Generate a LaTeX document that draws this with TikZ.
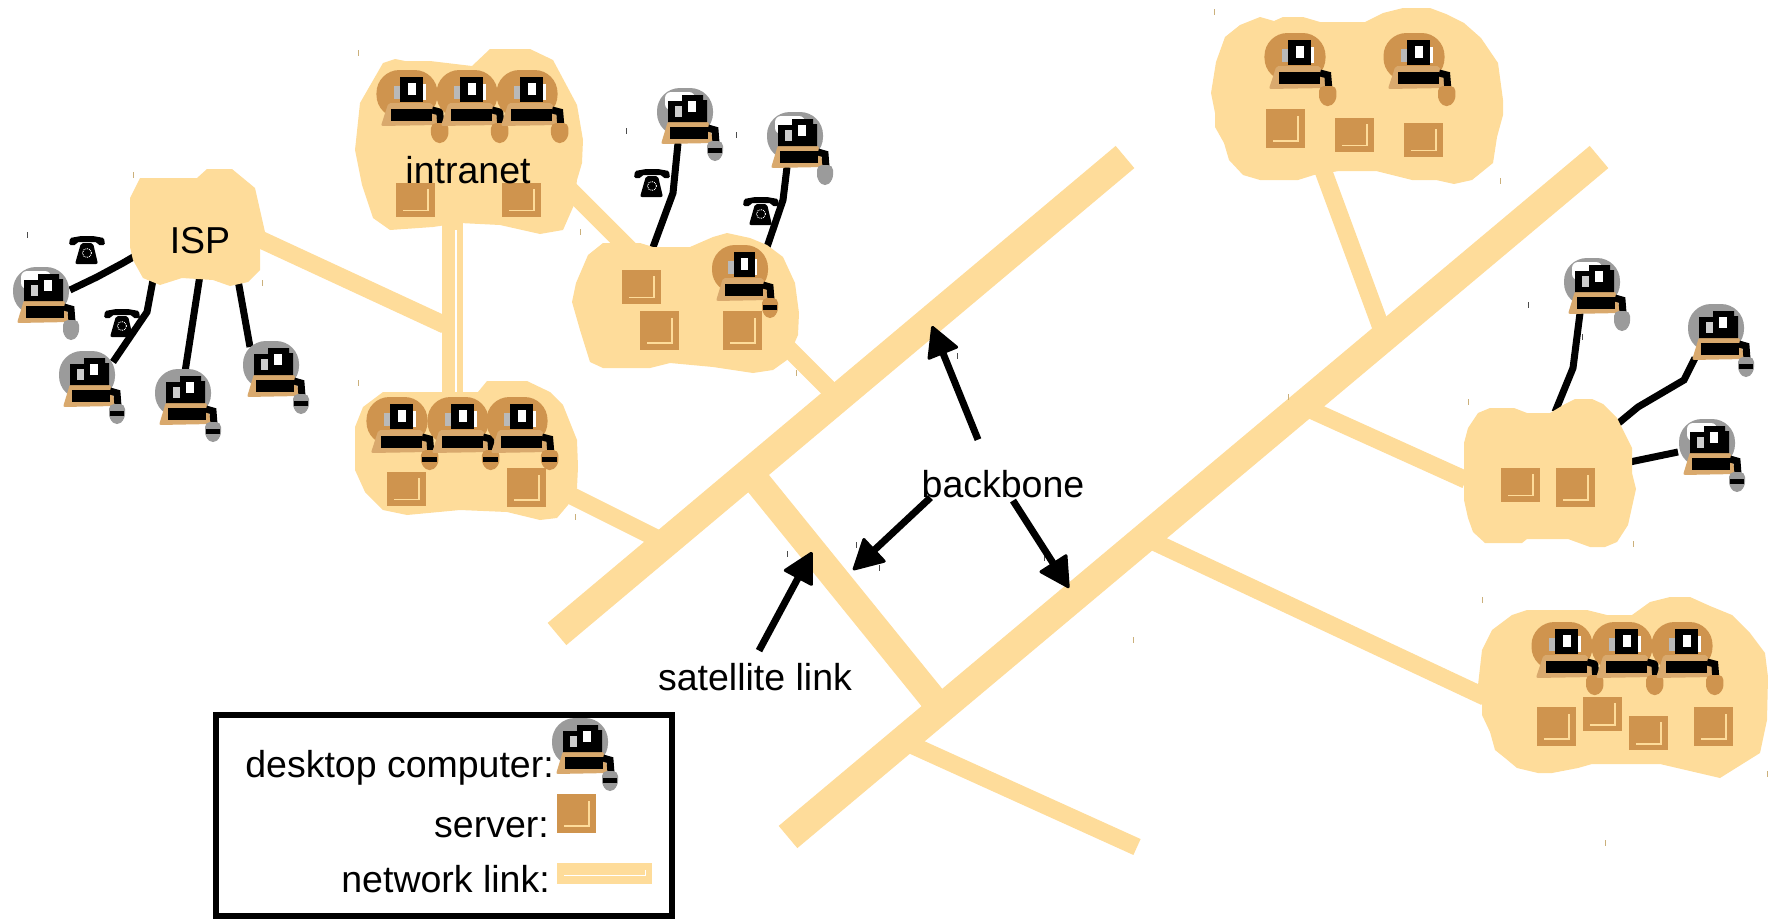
\documentclass[tikz,border=0pt]{standalone}
\usepackage{fontspec}
\setmainfont{Liberation Sans}
\usetikzlibrary{arrows.meta}
\definecolor{netcol}{HTML}{FEDC9A}
\definecolor{servercol}{HTML}{CF944E}
\definecolor{basecol}{HTML}{D9A96D}
\definecolor{haze}{HTML}{9B9B9B}
\newcommand{\deskbody}[3]{
  \fill[#1,rounded corners=23pt] (-28,0) rectangle (28,48);
  \fill[basecol,rounded corners=2pt] (-17,33) -- (23,33) -- (29,55) -- (-24,56) -- cycle;
  \fill[black] (-15,39) rectangle (23,51);
  \draw[black,line width=7pt] (23,40) -- (30,42) -- (31,55);
  \fill[#2,rounded corners=5pt] (22,53) -- (38,53) -- (38,68) -- (30,75) -- (22,68) -- cycle;
  \fill[#3] (23,60) rectangle (37,65);
}
\tikzset{
  bignet/.style={netcol,line width=29pt},
  smallnet/.style={netcol,line width=17.5pt},
  cable/.style={black,line width=7pt},
  pointer/.style={black,line width=7pt,-{Triangle[length=32pt,width=34pt,line width=3pt,round]}},
  word/.style={inner sep=0pt,anchor=base,font=\fontsize{37.5}{40}\selectfont},
  legendword/.style={word,anchor=base east},
  wide/.style={xscale=1.09},
  short/.style={yscale=0.87},
  tan tick/.style={netcol!80!black,line width=1pt},
  dark tick/.style={black!70,line width=1pt},
  pics/greydesk/.style n args={4}{code={
    \deskbody{#1}{#2}{#3}
    \fill[#4,rounded corners=6pt] (-20,4) rectangle (10,22);
    \fill[black] (-17,13) -- (-3,13) -- (-3,7) -- (18,7) -- (18,12) -- (22,12) -- (22,34) -- (-17,34) -- cycle;
    \fill[haze!50] (-10,18) rectangle (-3,29);
    \fill[white] (3,13) rectangle (11,24);
  }},
  pics/browndesk/.style n args={3}{code={
    \deskbody{#1}{#2}{#3}
    \fill[white] (14,14) rectangle (17,30);
    \fill[black] (-6,7) rectangle (15,32);
    \fill[haze!70] (-12,16) rectangle (-6,29);
    \fill[white] (1,13) rectangle (8,25);
  }},
  pics/server/.style={code={
    \fill[servercol] (0,0) rectangle (39,39);
    \draw[netcol,line width=1.3pt] (7,32) -- (32,32) -- (32,7);
  }},
  pics/phone/.style={code={
    \fill[black,rounded corners=1.5pt] (-18,-5) -- (-17,-12) -- (-6,-14) -- (6,-14) -- (17,-12) -- (18,-5) -- (11,-5) -- (10,-8) -- (-10,-8) -- (-11,-5) -- cycle;
    \fill[black,rounded corners=2pt] (-6,-7) -- (6,-7) -- (11,14) -- (-12,14) -- cycle;
    \draw[white,densely dotted,line width=0.9pt] (0,3) circle (4.5);
  }}
}
\begin{document}
\begin{tikzpicture}[x=1pt,y=-1pt]
\useasboundingbox (0,0) rectangle (1768,918);

% phones
\pic (phoneA) at (87,250) {phone};
\pic (phoneB) at (122,323) {phone};
\pic (phoneC) at (652,183) {phone};
\pic (phoneD) at (761,211) {phone};

% ends of the cables
\coordinate (pcA) at (70,290);
\coordinate (pcB) at (113,362);
\coordinate (pcC) at (185,372);
\coordinate (pcD) at (250,347);
\coordinate (pcE) at (678,143);
\coordinate (pcF) at (787,167);
\coordinate (pcG) at (1580,313);
\coordinate (pcH) at (1695,358);
\coordinate (pcI) at (1678,452);
\coordinate (ispA) at (135,256);
\coordinate (ispB) at (153,280);
\coordinate (ispC) at (200,275);
\coordinate (ispD) at (238,280);
\coordinate (midA) at (652,250);
\coordinate (midB) at (766,250);
\coordinate (rightA) at (1555,412);
\coordinate (rightB) at (1615,426);
\coordinate (rightC) at (1625,463);
\draw[cable] (pcA) -- (97,277) -- (123,263) -- (ispA);
\draw[cable] (pcB) -- (147,312) -- (ispB);
\draw[cable] (pcC) -- (ispC);
\draw[cable] (pcD) -- (ispD);
\draw[cable] (pcE) -- (673,193) -- (midA);
\draw[cable] (pcF) -- (783,200) -- (midB);
\draw[cable] (pcG) -- (1573,368) -- (rightA);
\draw[cable] (pcH) -- (1684,380) -- (1638,407) -- (rightB);
\draw[cable] (pcI) -- (rightC);

% network links
\draw[bignet] (1125,157) -- (557,634);
\draw[bignet] (1599,157) -- (788,837);
\draw[netcol,line width=27pt] (750,473) -- (938,705);
\draw[smallnet] (255,237) -- (445,325);
\draw[netcol,line width=21pt] (452.5,223) -- (452.5,393);
\draw[white,line width=1.5pt] (456,230) -- (456,393);
\draw[netcol,line width=18pt] (570,190) -- (630,250);
\draw[smallnet] (788,348) -- (835,395);
\draw[smallnet] (570,495) -- (660,540);
\draw[smallnet] (1323,170) -- (1382,330);
\draw[smallnet] (1300,405) -- (1466,480);
\draw[smallnet] (1150,540) -- (1485,697);
\draw[smallnet] (905,742) -- (1137,847);

% clouds
\fill[netcol] (130,198) -- (140,178) -- (197,178) -- (207,169) -- (232,169) -- (255,188) -- (265,232) -- (260,250) -- (260,270) -- (248,282) -- (230,286) -- (213,280) -- (182,278) -- (160,285) -- (143,278) -- (133,260) -- (130,247) -- cycle;
\fill[netcol] (360,103) -- (383,63) -- (395,59) -- (405,61) -- (430,61) -- (472,66) -- (490,49) -- (530,49) -- (553,60) -- (577,105) -- (583,140) -- (582,163) -- (577,180) -- (574,205) -- (563,230) -- (540,234) -- (500,225) -- (460,223) -- (433,227) -- (390,230) -- (373,218) -- (362,185) -- (355,150) -- cycle;
\fill[netcol] (355,427) -- (363,407) -- (383,392) -- (478,392) -- (487,381) -- (527,381) -- (550,392) -- (563,405) -- (577,440) -- (578,467) -- (577,488) -- (568,505) -- (557,518) -- (540,520) -- (507,512) -- (460,510) -- (407,515) -- (383,510) -- (365,492) -- (355,470) -- cycle;
\fill[netcol] (576,283) -- (588,255) -- (603,243) -- (640,243) -- (653,247) -- (690,247) -- (713,237) -- (727,233) -- (750,238) -- (767,245) -- (783,257) -- (795,283) -- (799,313) -- (798,335) -- (787,360) -- (773,370) -- (753,373) -- (713,367) -- (670,363) -- (650,368) -- (603,368) -- (590,362) -- (580,330) -- (572,302) -- cycle;
\fill[netcol] (1211,93) -- (1216,62) -- (1225,37) -- (1240,25) -- (1260,17) -- (1274,21) -- (1283,17) -- (1303,17) -- (1320,22) -- (1365,22) -- (1383,13) -- (1403,8) -- (1430,8) -- (1446,14) -- (1464,23) -- (1481,38) -- (1498,63) -- (1503,100) -- (1503,115) -- (1497,137) -- (1493,163) -- (1472,180) -- (1454,184) -- (1436,180) -- (1412,180) -- (1376,171) -- (1339,171) -- (1314,175) -- (1298,180) -- (1260,180) -- (1243,175) -- (1229,160) -- (1224,143) -- (1215,127) -- (1215,113) -- cycle;
\fill[netcol] (1464,443) -- (1468,428) -- (1478,413) -- (1490,408) -- (1514,408) -- (1527,413) -- (1550,413) -- (1565,404) -- (1575,399) -- (1592,399) -- (1603,404) -- (1617,418) -- (1632,448) -- (1632,473) -- (1636,489) -- (1628,525) -- (1617,542) -- (1605,547) -- (1590,547) -- (1568,539) -- (1527,539) -- (1522,543) -- (1485,543) -- (1473,532) -- (1468,518) -- (1464,500) -- cycle;
\fill[netcol] (1482,650) -- (1492,630) -- (1512,615) -- (1527,610) -- (1587,610) -- (1607,615) -- (1632,615) -- (1650,602) -- (1670,597) -- (1690,597) -- (1710,606) -- (1732,615) -- (1750,633) -- (1765,653) -- (1768,677) -- (1767,720) -- (1760,753) -- (1720,778) -- (1660,764) -- (1592,764) -- (1578,768) -- (1552,773) -- (1538,773) -- (1517,768) -- (1505,758) -- (1495,750) -- (1490,732) -- (1482,715) -- (1482,703) -- (1478,685) -- cycle;

% servers
\pic[short] (srvA) at (396,183) {server};
\pic[short] (srvB) at (502,183) {server};
\pic[short] (srvC) at (387,472) {server};
\pic (srvD) at (507,468) {server};
\pic[short] (srvE) at (622,270) {server};
\pic (srvF) at (640,311) {server};
\pic (srvG) at (723,311) {server};
\pic (srvH) at (1266,109) {server};
\pic[short] (srvI) at (1335,118) {server};
\pic[short] (srvJ) at (1404,123) {server};
\pic[short] (srvK) at (1501,468) {server};
\pic (srvL) at (1556,468) {server};
\pic (srvM) at (1537,707) {server};
\pic[short] (srvN) at (1583,697) {server};
\pic[short] (srvO) at (1629,716) {server};
\pic (srvP) at (1694,707) {server};
\pic (srvKey) at (557,794) {server};

% desktop computers
\pic (deskA) at (41,267) {greydesk={haze}{haze}{haze}{white}};
\pic (deskB) at (87,351) {greydesk={haze}{haze}{black}{haze}};
\pic (deskC) at (183,369) {greydesk={haze}{haze}{black}{haze}};
\pic (deskD) at (271,341) {greydesk={haze}{haze}{black}{haze}};
\pic (deskE) at (685,88) {greydesk={haze}{haze}{black}{white}};
\pic (deskF) at (795,112) {greydesk={haze}{haze}{haze}{white}};
\pic (deskG) at (1592,258) {greydesk={haze}{haze}{haze}{white}};
\pic (deskH) at (1716,304) {greydesk={haze}{haze}{black}{haze}};
\pic (deskI) at (1707,419) {greydesk={haze}{haze}{black}{white}};
\pic (deskKey) at (580,718) {greydesk={haze}{haze}{black}{haze}};
\pic[wide] (deskJ) at (407,70) {browndesk={servercol}{servercol}{servercol}};
\pic[wide] (deskK) at (467,70) {browndesk={servercol}{servercol}{servercol}};
\pic[wide] (deskL) at (527,70) {browndesk={servercol}{servercol}{servercol}};
\pic[wide] (deskM) at (397,397) {browndesk={servercol}{servercol}{black}};
\pic[wide] (deskN) at (458,397) {browndesk={servercol}{servercol}{black}};
\pic[wide] (deskO) at (517,397) {browndesk={servercol}{servercol}{black}};
\pic (deskP) at (740,245) {browndesk={servercol}{servercol}{black}};
\pic[wide] (deskQ) at (1295,33) {browndesk={servercol}{servercol}{servercol}};
\pic[wide] (deskR) at (1414,33) {browndesk={servercol}{servercol}{servercol}};
\pic[wide] (deskS) at (1562,622) {browndesk={servercol}{servercol}{servercol}};
\pic[wide] (deskT) at (1622,622) {browndesk={servercol}{servercol}{servercol}};
\pic[wide] (deskU) at (1682,622) {browndesk={servercol}{servercol}{servercol}};

% small marks
\draw[tan tick] (133,172) -- ++(0,6) (262,280) -- ++(0,6) (358,50) -- ++(0,6) (580,229) -- ++(0,6) (358,380) -- ++(0,6) (575,514) -- ++(0,6) (796,370) -- ++(0,6) (1214,9) -- ++(0,6) (1500,178) -- ++(0,6) (1288,394) -- ++(0,6) (1468,399) -- ++(0,6) (1633,541) -- ++(0,6) (1482,597) -- ++(0,6) (1767,771) -- ++(0,6) (1133,637) -- ++(0,6) (1605,840) -- ++(0,6);
\draw[dark tick] (27,232) -- ++(0,6) (626,128) -- ++(0,6) (736,132) -- ++(0,6) (1528,302) -- ++(0,6) (1582,334) -- ++(0,6) (957,353) -- ++(0,6) (856,542) -- ++(0,6) (879,565) -- ++(0,6) (1044,555) -- ++(0,6) (787,551) -- ++(0,6);

% labels and arrows
\node[word] (isp) at (200,253) {ISP};
\node[word] (intranet) at (468,183) {intranet};
\node[word] (bb) at (1003,497) {backbone};
\node[word] (sat) at (755,690) {satellite link};
\coordinate (tipA) at (932,326);
\coordinate (tipB) at (853,570);
\coordinate (tipC) at (1069,588);
\coordinate (tipD) at (812,552);
\draw[pointer] ([shift={(-25,-30)}]bb.north) -- (tipA);
\draw[pointer] ([shift={(9,0)}]bb.south west) -- (tipB);
\draw[pointer] ([shift={(10,3)}]bb.south) -- (tipC);
\draw[pointer] ([shift={(4,-12)}]sat.north) -- (tipD);

% legend
\draw[black,line width=6.5pt] (216,715) rectangle (672,916);
\node[legendword] (lgDesk) at (554,777) {desktop computer:};
\node[legendword] (lgServer) at (549,837) {server:};
\node[legendword] (lgLink) at (550,892) {network link:};
\fill[netcol] (557,863) rectangle (652,884);
\draw[white,line width=1pt] (564,875) -- (645,875) -- (645,870);
\end{tikzpicture}
\end{document}
